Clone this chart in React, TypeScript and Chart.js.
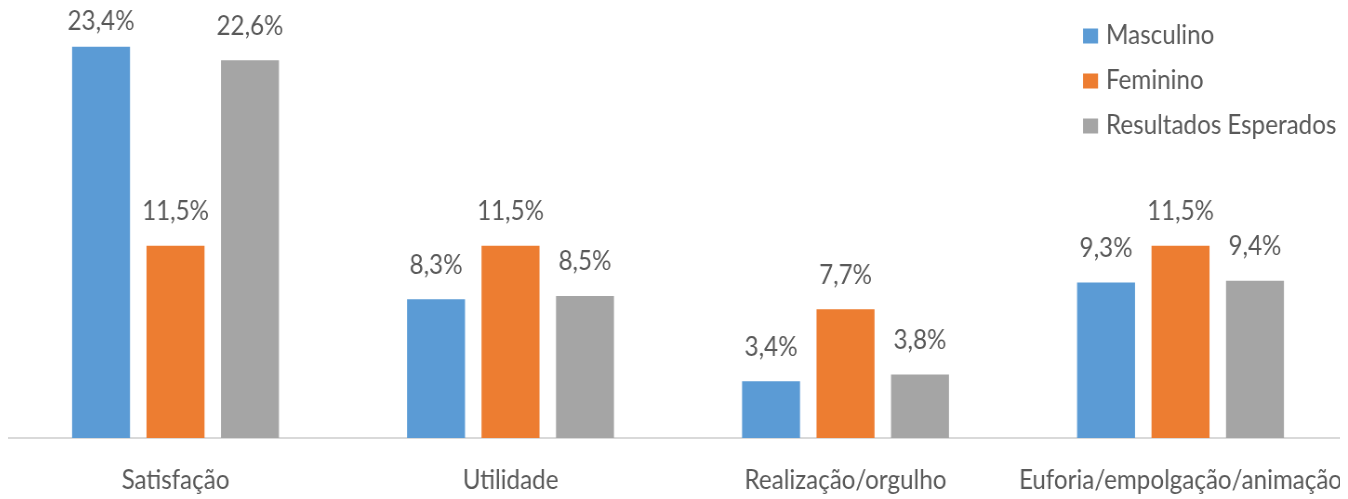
import React, { useEffect, useRef } from "react";
import { Chart, registerables } from "chart.js";

Chart.register(...registerables);

const categories = ["Satisfação", "Utilidade", "Realização/orgulho", "Euforia/empolgação/animação"];
const seriesNames = ["Masculino", "Feminino", "Resultados Esperados"];
const masculino = [23.4, 8.3, 3.4, 9.3];
const feminino = [11.5, 11.5, 7.7, 11.5];
const esperados = [22.6, 8.5, 3.8, 9.4];
const colors = ["#5B9BD5", "#ED7D31", "#A5A5A5"];
const yMax = 25;

const FONT = "Lato, 'Open Sans', sans-serif";
const TEXT = "#595959";
// horizontal squeeze of the drawing (reference text is condensed)
const SQ = 0.93;
const CSS_W = 1340;
const CSS_H = 491;
const CANVAS_W = Math.round(CSS_W / SQ);

const fmt = (v: number) => v.toFixed(1).replace(".", ",") + "%";

const labelsPlugin = {
  id: "valueLabels",
  afterDatasetsDraw(chart: any) {
    const ctx = chart.ctx;
    ctx.save();
    ctx.font = `26px ${FONT}`;
    ctx.fillStyle = TEXT;
    ctx.textAlign = "center";
    ctx.textBaseline = "middle";
    chart.data.datasets.forEach((ds: any, i: number) => {
      const meta = chart.getDatasetMeta(i);
      meta.data.forEach((el: any, j: number) => {
        const y = Math.max(el.y - 34, chart.chartArea.top + 2);
        ctx.fillText(fmt(ds.data[j]), el.x, y);
      });
    });
    ctx.restore();
  },
};

const legendPlugin = {
  id: "customLegend",
  afterDraw(chart: any) {
    const ctx = chart.ctx;
    const area = chart.chartArea;
    ctx.save();
    ctx.font = `26px ${FONT}`;
    ctx.textAlign = "left";
    ctx.textBaseline = "middle";
    chart.data.datasets.forEach((ds: any, i: number) => {
      const x = area.right - 265 / SQ;
      const y = area.top + 16 + i * 45;
      ctx.fillStyle = ds.backgroundColor;
      ctx.fillRect(x, y - 7.5, 15 / SQ, 15);
      ctx.fillStyle = TEXT;
      ctx.fillText(ds.label, x + 23 / SQ, y);
    });
    ctx.restore();
  },
};

export default function App() {
  const ref = useRef<HTMLCanvasElement | null>(null);
  useEffect(() => {
    if (!ref.current) return;
    const chart = new Chart(ref.current, {
      type: "bar",
      data: {
        labels: categories,
        datasets: [masculino, feminino, esperados].map((d, i) => ({
          label: seriesNames[i],
          data: d,
          backgroundColor: colors[i],
          categoryPercentage: 0.667,
          barPercentage: 0.778,
        })),
      },
      options: {
        animation: false,
        responsive: false,
        devicePixelRatio: 1,
        layout: { padding: { top: 12, left: 0, right: 0, bottom: 0 } },
        plugins: { legend: { display: false }, tooltip: { enabled: false } },
        scales: {
          y: { display: false, min: 0, max: yMax },
          x: {
            grid: { display: false },
            border: { display: true, color: "#D9D9D9", width: 2 },
            ticks: { color: TEXT, font: { family: FONT, size: 26 }, padding: 19, maxRotation: 0, autoSkip: false },
            afterFit: (s: any) => {
              s.height = 61;
              s.paddingLeft = 0;
              s.paddingRight = 0;
            },
          },
        },
      },
      plugins: [labelsPlugin, legendPlugin],
    });
    return () => chart.destroy();
  }, []);
  return (
    <canvas
      ref={ref}
      width={CANVAS_W}
      height={CSS_H}
      style={{ display: "block", width: `${CSS_W}px`, height: `${CSS_H}px` }}
    />
  );
}
